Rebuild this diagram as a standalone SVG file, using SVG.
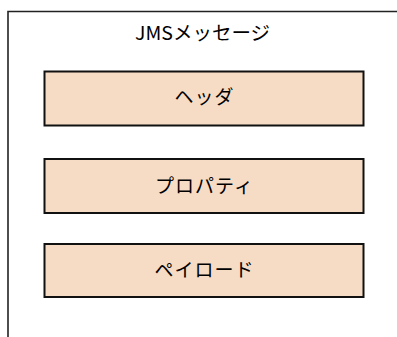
<svg xmlns="http://www.w3.org/2000/svg" width="397" height="337" viewBox="0 0 397 337">
<style>
.frame{fill:none;stroke:#222;stroke-width:1.6}
.box{fill:#F6DBC5;stroke:#111;stroke-width:2}
.title{font-family:"Noto Sans CJK JP","Noto Sans",sans-serif;font-size:19px;fill:#000}
.lbl{font-family:"Noto Sans CJK JP","Noto Sans",sans-serif;font-size:19px;letter-spacing:1px;fill:#000;text-anchor:middle}
</style>
<rect width="397" height="337" fill="#fff"/>
<g id="message">
<path class="frame" d="M8,337 V11.5 H397"/>
<text class="title" x="135" y="40" textLength="135" lengthAdjust="spacingAndGlyphs">JMSメッセージ</text>
</g>
<g id="header">
<rect class="box" x="44.5" y="71.5" width="319" height="54"/>
<text class="lbl" x="204.5" y="104">ヘッダ</text>
</g>
<g id="property">
<rect class="box" x="44.5" y="159" width="319" height="54"/>
<text class="lbl" x="204.5" y="193">プロパティ</text>
</g>
<g id="payload">
<rect class="box" x="44.5" y="244" width="319" height="53"/>
<text class="lbl" x="204.5" y="277">ペイロード</text>
</g>
<g id="connectors"/>
</svg>
